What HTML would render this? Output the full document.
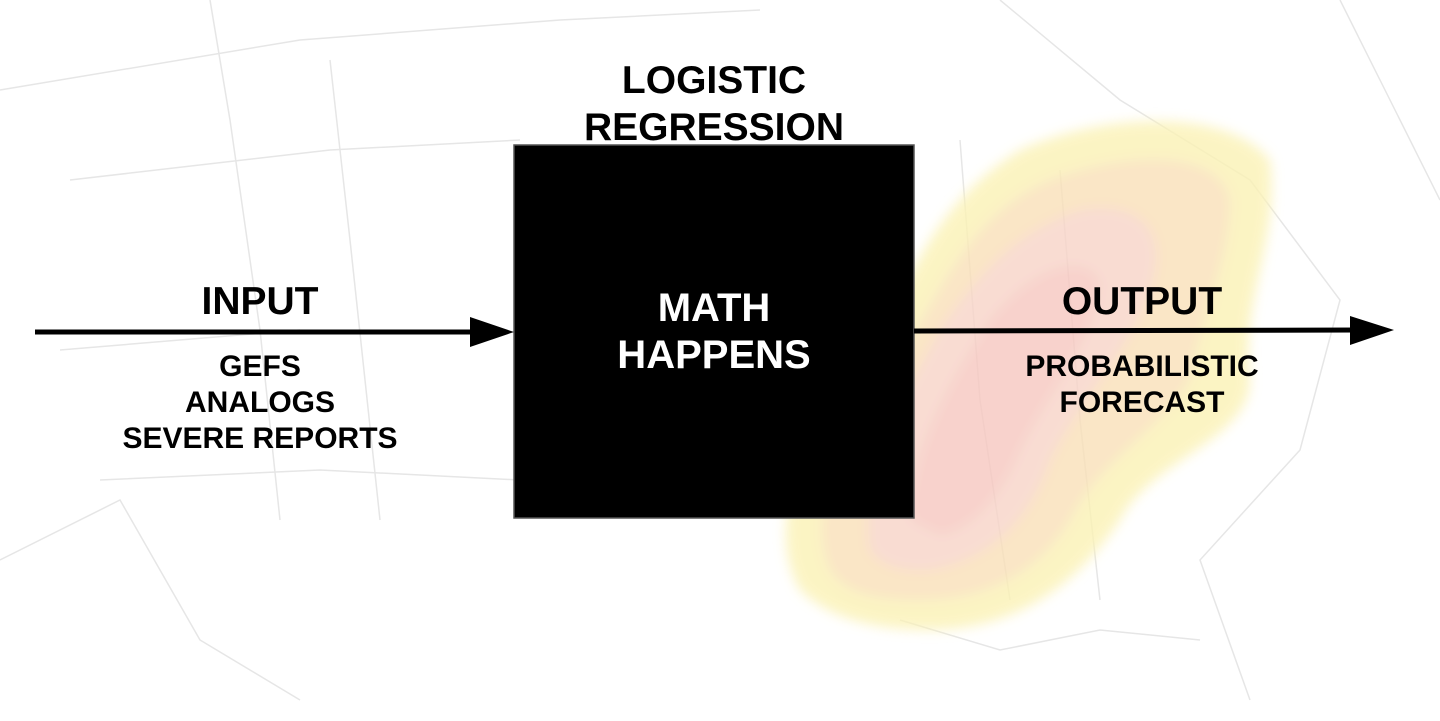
<!DOCTYPE html>
<html><head><style>
body{margin:0;width:1440px;height:721px;overflow:hidden;background:#fff;position:relative;font-family:"Liberation Sans",sans-serif;font-weight:bold}
.t{position:absolute;text-align:center;white-space:nowrap;transform:translateX(-50%)}
</style></head><body>
<svg width="1440" height="721" style="position:absolute;left:0;top:0">
<defs><filter id="b"><feGaussianBlur stdDeviation="6"/></filter></defs>
<g stroke="#e6e6e6" stroke-width="1.5" fill="none">
<path d="M0 90 L300 40 L560 20 L760 10"/>
<path d="M70 180 L330 150 L520 140"/>
<path d="M60 350 L300 330"/>
<path d="M100 480 L320 470 L520 480"/>
<path d="M210 0 L230 120 L260 330 L280 520"/>
<path d="M330 60 L350 240 L380 520"/>
<path d="M0 560 L120 500 L200 640 L300 700"/>
<path d="M1000 0 L1120 100 L1250 180 L1340 300 L1300 450 L1200 560 L1250 700"/>
<path d="M900 620 L1000 650 L1100 630 L1200 640"/>
<path d="M960 140 L980 400 L1010 600"/>
<path d="M1060 170 L1080 420 L1100 600"/>
<path d="M1340 0 L1400 120 L1440 200"/>
</g>
<g filter="url(#b)" opacity="0.8">
<path d="M800 590 C760 520 810 420 880 330 C920 260 940 200 1020 150 C1110 110 1230 110 1270 160 C1280 240 1240 300 1250 380 C1250 440 1150 460 1120 520 C1080 580 1020 630 930 630 C880 630 830 620 800 590Z" fill="#fbf2b5"/>
<path d="M830 570 C800 500 860 420 910 340 C950 270 980 210 1050 180 C1130 150 1220 150 1230 200 C1230 260 1200 320 1190 380 C1160 430 1100 460 1070 520 C1040 570 990 600 920 600 C880 600 845 595 830 570Z" fill="#f9e0b8"/>
<path d="M870 550 C860 480 900 400 940 330 C980 270 1020 230 1080 210 C1140 200 1170 230 1150 290 C1130 350 1080 400 1050 460 C1030 520 990 560 930 570 C900 572 880 565 870 550Z" fill="#f8d4c8"/>
<path d="M910 520 C910 450 950 380 990 320 C1030 270 1080 250 1100 280 C1100 330 1050 390 1020 450 C1000 500 970 530 940 535Z" fill="#f7c8c0"/>
</g>
<rect x="514" y="145" width="400" height="373" fill="#000" stroke="#555" stroke-width="1.5"/>
<line x1="35" y1="332" x2="480" y2="332" stroke="#000" stroke-width="5"/>
<polygon points="470,317 514,332 470,347" fill="#000"/>
<line x1="914" y1="331" x2="1360" y2="330" stroke="#000" stroke-width="5"/>
<polygon points="1350,316 1394,330 1350,345" fill="#000"/>
</svg>
<div class="t" style="left:714px;top:57px;font-size:39px;line-height:47px">LOGISTIC<br>REGRESSION</div>
<div class="t" style="left:260px;top:280px;font-size:39px;line-height:44px">INPUT</div>
<div class="t" style="left:260px;top:349px;font-size:30px;line-height:36px">GEFS<br>ANALOGS<br>SEVERE REPORTS</div>
<div class="t" style="left:714px;top:285px;font-size:40px;line-height:47px;color:#fff">MATH<br>HAPPENS</div>
<div class="t" style="left:1142px;top:280px;font-size:39px;line-height:44px">OUTPUT</div>
<div class="t" style="left:1142px;top:349px;font-size:30px;line-height:36px">PROBABILISTIC<br>FORECAST</div>
</body></html>
